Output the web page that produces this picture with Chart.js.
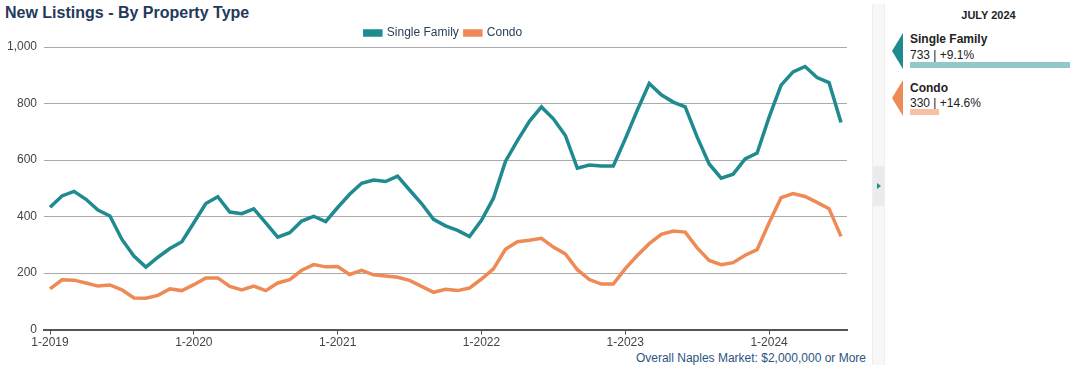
<!DOCTYPE html>
<html>
<head>
<meta charset="utf-8">
<script src="https://cdn.jsdelivr.net/npm/chart.js@4.4.1/dist/chart.umd.min.js"></script>
<style>
  body { margin: 0; width: 1070px; height: 369px; background: #fff; font-family: "Liberation Sans", Arial, sans-serif; overflow: hidden; position: relative; }
  #title { position: absolute; left: 5px; top: 4px; font-size: 16px; font-weight: bold; color: #1f3a5c; }
  #wrap { position: absolute; left: 0; top: 0; width: 866px; height: 351px; }
  #footer { position: absolute; right: 204px; top: 351px; font-size: 12px; color: #2b5483; }
  #strip { position: absolute; left: 872px; top: 4px; width: 11px; height: 361px; background: #f7f7f7; border-left: 1px solid #eee; border-right: 1px solid #eee; }
  #strip .btn { position: absolute; left: 0; top: 162px; width: 11px; height: 40px; background: #ebebeb; }
  #strip .btn:after { content: ""; position: absolute; left: 4px; top: 17px; border-left: 4px solid #1f8a8f; border-top: 3px solid transparent; border-bottom: 3px solid transparent; }
  #side { position: absolute; left: 885px; top: 0; width: 185px; height: 369px; }
  #side .month { position: absolute; left: 11px; width: 185px; top: 9px; text-align: center; font-size: 11px; font-weight: bold; color: #222; }
  .item { position: absolute; left: 0; width: 185px; }
  .arrow { position: absolute; left: 7px; width: 11px; height: 36px; clip-path: polygon(0 50%, 100% 0, 100% 100%); }
  .name { position: absolute; left: 25px; font-size: 12px; font-weight: bold; color: #222; }
  .val { position: absolute; left: 25px; font-size: 12px; color: #222; }
  .bar { position: absolute; left: 25px; height: 6px; }
</style>
</head>
<body>
<div id="title">New Listings - By Property Type</div>
<div id="wrap"><canvas id="chart"></canvas></div>
<div id="footer">Overall Naples Market: $2,000,000 or More</div>
<div id="strip"><div class="btn"></div></div>
<div id="side">
  <div class="month">JULY 2024</div>
  <div class="item" style="top:33px">
    <div class="arrow" style="background:#1f8a8f"></div>
    <div class="name" style="top:-1px">Single Family</div>
    <div class="val" style="top:15px">733 | +9.1%</div>
    <div class="bar" style="top:29px;width:160px;background:#93c7c9"></div>
  </div>
  <div class="item" style="top:80px">
    <div class="arrow" style="background:#ee8a55"></div>
    <div class="name" style="top:1px">Condo</div>
    <div class="val" style="top:16px">330 | +14.6%</div>
    <div class="bar" style="top:29px;width:29px;background:#f6c1a5"></div>
  </div>
</div>
<script>
// monthly labels, 1-2019 .. 7-2024
const months = [];
for (let y = 2019; y <= 2024; y++) {
  for (let m = 1; m <= 12; m++) {
    if (y === 2024 && m > 7) break;
    months.push(m + '-' + y);
  }
}

const singleFamily = [
  433, 473, 489, 461, 423, 402, 319, 260, 221, 256, 287, 311,
  378, 446, 470, 416, 410, 427, 378, 327, 343, 384, 401, 382,
  432, 479, 518, 529, 524, 543, 494, 446, 390, 367, 351, 329,
  387, 465, 595, 669, 737, 788, 746, 687, 571, 582, 579, 579,
  675, 776, 871, 831, 805, 788, 681, 586, 536, 550, 604, 625,
  752, 865, 912, 931, 892, 874, 733
];

const condo = [
  144, 176, 175, 165, 154, 158, 141, 112, 111, 121, 144, 138,
  159, 183, 183, 153, 140, 154, 138, 165, 177, 210, 230, 222,
  223, 195, 210, 194, 190, 185, 174, 153, 132, 143, 138, 147,
  179, 215, 284, 311, 316, 323, 292, 268, 212, 177, 161, 161,
  216, 262, 304, 337, 349, 345, 289, 245, 230, 237, 263, 283,
  378, 467, 481, 471, 450, 428, 330
];

const yTicks = [0, 200, 400, 600, 800, 1000];

const TEAL = '#1f8a8f';
const ORANGE = '#ee8a55';

// legend sits a bit right of centre and closer to the plot in the original
const legendTweak = {
  id: 'legendTweak',
  beforeLayout(chart) {
    const lg = chart.legend;
    if (!lg || lg._patched) return;
    const fit = lg.fit;
    lg.fit = function () { fit.call(this); this.height -= 2; };
    lg._patched = true;
  },
  afterLayout(chart) {
    if (!chart.legend) return;
    chart.legend.left += 20;
    chart.legend.right += 20;
  },
};

new Chart(document.getElementById('chart'), {
  type: 'line',
  data: {
    labels: months,
    datasets: [
      { label: 'Single Family', data: singleFamily, borderColor: TEAL, backgroundColor: TEAL, borderWidth: 3.5, pointRadius: 0, tension: 0 },
      { label: 'Condo', data: condo, borderColor: ORANGE, backgroundColor: ORANGE, borderWidth: 3.5, pointRadius: 0, tension: 0 },
    ],
  },
  plugins: [legendTweak],
  options: {
    responsive: true,
    maintainAspectRatio: false,
    animation: false,
    layout: { padding: { top: 21, left: 0, right: 19, bottom: 0 } },
    plugins: {
      legend: {
        position: 'top',
        labels: { boxWidth: 16, boxHeight: 4, color: '#2a3f5a', font: { size: 12, family: 'Liberation Sans' }, padding: 6 },
      },
      tooltip: { enabled: false },
    },
    scales: {
      x: {
        offset: true,
        grid: {
          offset: false,
          drawOnChartArea: false,
          tickLength: 5,
          color: (c) => (c.index % 12 === 0 ? '#555' : 'transparent'),
        },
        border: { color: '#555', width: 2 },
        ticks: {
          autoSkip: false,
          maxRotation: 0,
          color: '#444',
          padding: 1,
          font: { size: 12, family: 'Liberation Sans' },
          callback: (v, i) => (i % 12 === 0 ? months[i] : ''),
        },
      },
      y: {
        min: 0,
        max: 1000,
        afterBuildTicks: (s) => { s.ticks = yTicks.map((v) => ({ value: v })); },
        grid: { color: '#aaa', drawTicks: false },
        border: { display: false },
        ticks: {
          color: '#444',
          padding: 7,
          font: { size: 12, family: 'Liberation Sans' },
          callback: (v) => v.toLocaleString('en-US'),
        },
      },
    },
  },
});
</script>
</body>
</html>
